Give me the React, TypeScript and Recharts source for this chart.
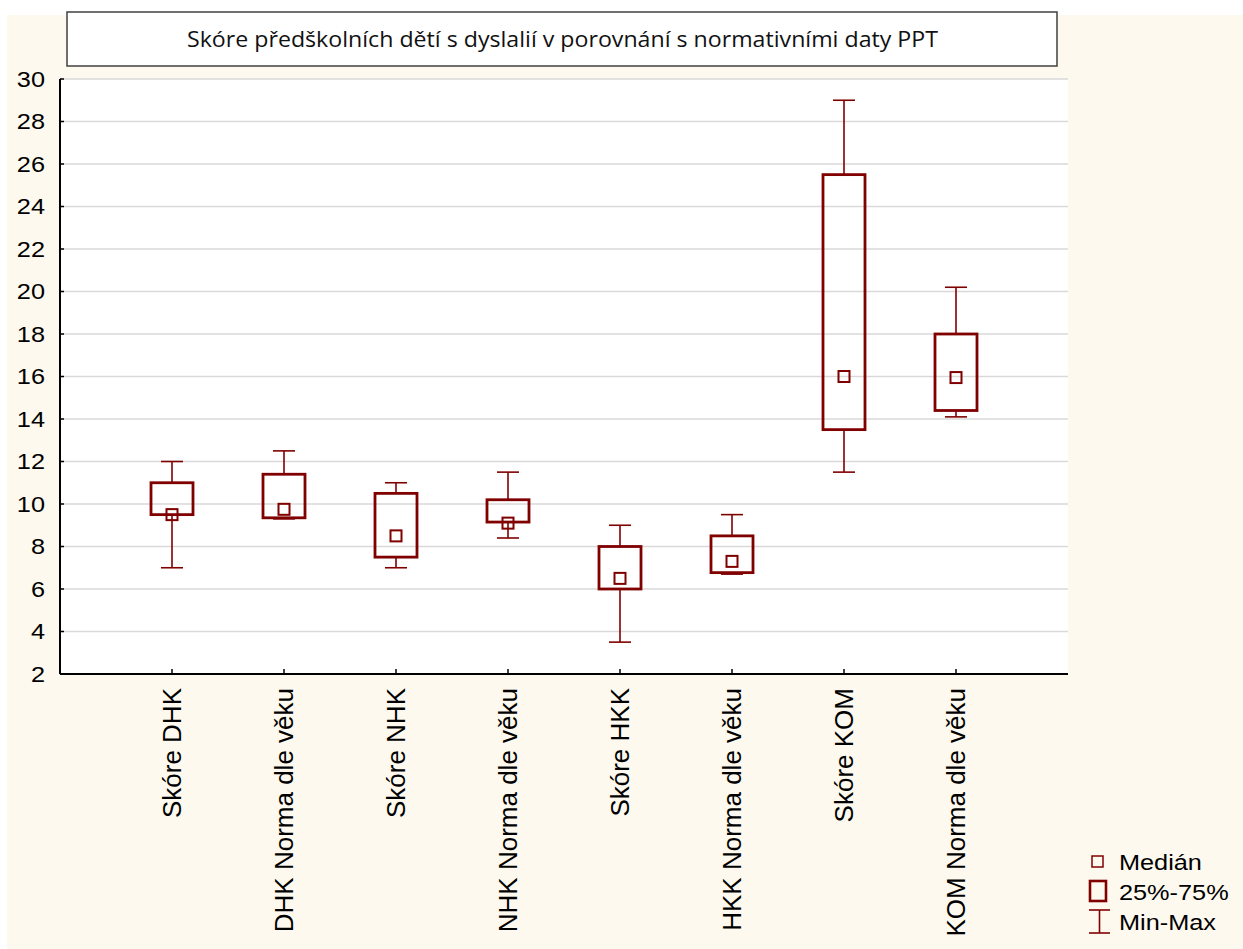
import React from 'react';
import { ComposedChart, Bar, Scatter, XAxis, YAxis, CartesianGrid } from 'recharts';

const categories = [
  'Skóre DHK',
  'DHK Norma dle věku',
  'Skóre NHK',
  'NHK Norma dle věku',
  'Skóre HKK',
  'HKK Norma dle věku',
  'Skóre KOM',
  'KOM Norma dle věku',
];
const minValues = [7, 9.3, 7, 8.4, 3.5, 6.7, 11.5, 14.1];
const q1Values = [9.5, 9.35, 7.5, 9.15, 6, 6.77, 13.5, 14.4];
const medianValues = [9.5, 9.75, 8.5, 9.1, 6.5, 7.3, 16, 15.95];
const q3Values = [11, 11.4, 10.5, 10.2, 8, 8.5, 25.5, 18];
const maxValues = [12, 12.5, 11, 11.5, 9, 9.5, 29, 20.2];
const yTicks = [2, 4, 6, 8, 10, 12, 14, 16, 18, 20, 22, 24, 26, 28, 30];
const legendLabels = ['Medián', '25%-75%', 'Min-Max'];
const title = 'Skóre předškolních dětí s dyslalií v porovnání s normativními daty PPT';

const data = categories.map((name, i) => ({
  name,
  base: minValues[i],
  lower: q1Values[i] - minValues[i],
  box: q3Values[i] - q1Values[i],
  upper: maxValues[i] - q3Values[i],
  median: medianValues[i],
}));

const RED = '#800000';
const FONT = '"Liberation Sans", Arial, sans-serif';
const CAP = 11;

const LowerWhisker = (p: any) => {
  const cx = p.x + p.width / 2;
  const top = p.y;
  const bot = p.y + p.height;
  return (
    <g>
      <line x1={cx} x2={cx} y1={top} y2={bot} stroke={RED} strokeWidth={1.6} />
      <line x1={cx - CAP} x2={cx + CAP} y1={bot} y2={bot} stroke={RED} strokeWidth={1.6} />
    </g>
  );
};

const UpperWhisker = (p: any) => {
  const cx = p.x + p.width / 2;
  const top = p.y;
  const bot = p.y + p.height;
  return (
    <g>
      <line x1={cx} x2={cx} y1={top} y2={bot} stroke={RED} strokeWidth={1.6} />
      <line x1={cx - CAP} x2={cx + CAP} y1={top} y2={top} stroke={RED} strokeWidth={1.6} />
    </g>
  );
};

const BoxShape = (p: any) => (
  <rect x={p.x} y={p.y} width={p.width} height={p.height} fill="none" stroke={RED} strokeWidth={2.8} />
);

const MedianShape = (p: any) => (
  <rect x={p.cx - 5.5} y={p.cy - 5.5} width={11} height={11} fill="none" stroke={RED} strokeWidth={2} />
);

const YTick = (p: any) => {
  const { x, y, payload } = p;
  return (
    <g>
      <line x1={x + 15} x2={x + 19} y1={y} y2={y} stroke="#000" strokeWidth={1.5} />
      <text
        transform={`translate(${x},${y}) scale(1.15,1)`}
        textAnchor="end"
        dy="0.36em"
        fontSize={22}
        fontFamily={FONT}
        fill="#000"
      >
        {payload.value}
      </text>
    </g>
  );
};

const XTick = (p: any) => {
  const { x, y, payload } = p;
  return (
    <g>
      <line x1={x} x2={x} y1={y - 14} y2={y - 19} stroke="#000" strokeWidth={1.5} />
      <text
        x={x}
        y={y}
        transform={`rotate(-90, ${x}, ${y})`}
        textAnchor="end"
        dy="0.36em"
        fontSize={26}
        fontFamily={FONT}
        fill="#000"
      >
        {payload.value}
      </text>
    </g>
  );
};

const TopTick = (p: any) => {
  const { x, y } = p;
  return <line x1={x} x2={x} y1={y} y2={y + 5} stroke="#000" strokeWidth={1.5} />;
};

export default function App() {
  return (
    <div style={{ position: 'absolute', left: 0, top: 0, width: 1243, height: 949, background: '#fff' }}>
      <div style={{ position: 'absolute', left: 7, top: 15, width: 1236, height: 934, background: '#FDF9EE' }} />
      <div style={{ position: 'absolute', left: 0, top: 0 }}>
        <ComposedChart
          width={1243}
          height={949}
          data={data}
          margin={{ top: 79, right: 175, left: 0, bottom: 0 }}
        >
          <CartesianGrid vertical={false} stroke="#D9D9D9" strokeWidth={1.6} fill="#FFFFFF" />
          <XAxis
            dataKey="name"
            interval={0}
            padding={{ left: 56, right: 56 }}
            height={275}
            tickSize={0}
            tickMargin={14}
            tickLine={false}
            axisLine={{ stroke: '#000', strokeWidth: 2 }}
            tick={<XTick />}
          />
          <XAxis
            xAxisId="top"
            orientation="top"
            dataKey="name"
            interval={0}
            padding={{ left: 56, right: 56 }}
            height={0}
            tickSize={0}
            tickMargin={0}
            tickLine={false}
            axisLine={{ stroke: '#000', strokeWidth: 2 }}
            tick={<TopTick />}
          />
          <YAxis
            type="number"
            domain={[2, 30]}
            ticks={yTicks}
            allowDataOverflow
            width={60}
            tickSize={0}
            tickMargin={15}
            tickLine={false}
            axisLine={{ stroke: '#000', strokeWidth: 2 }}
            tick={<YTick />}
          />
          <YAxis
            yAxisId="right"
            orientation="right"
            type="number"
            domain={[2, 30]}
            allowDataOverflow
            width={0}
            tick={false}
            tickLine={false}
            axisLine={{ stroke: '#000', strokeWidth: 2 }}
          />
          <Bar dataKey="base" stackId="b" barSize={42} fill="none" isAnimationActive={false} shape={() => null} />
          <Bar dataKey="lower" stackId="b" barSize={42} isAnimationActive={false} shape={<LowerWhisker />} />
          <Bar dataKey="box" stackId="b" barSize={42} isAnimationActive={false} shape={<BoxShape />} />
          <Bar dataKey="upper" stackId="b" barSize={42} isAnimationActive={false} shape={<UpperWhisker />} />
          <Scatter dataKey="median" isAnimationActive={false} shape={<MedianShape />} />
        </ComposedChart>
      </div>
      <svg width={1243} height={949} style={{ position: 'absolute', left: 0, top: 0, pointerEvents: 'none' }}>
        <rect x={67} y={12} width={990} height={54} fill="#FFFFFF" stroke="#404040" strokeWidth={1.5} />
        <text
          x={562.5}
          y={47}
          textAnchor="middle"
          fontSize={21}
          fontFamily='"Open Sans", "Noto Sans", sans-serif'
          fill="#111"
          textLength={751}
          lengthAdjust="spacingAndGlyphs"
        >
          {title}
        </text>
        <rect x={1092} y={856} width={11} height={11} fill="none" stroke={RED} strokeWidth={1.5} />
        <rect x={1090} y={881} width={16} height={20} fill="none" stroke={RED} strokeWidth={2.6} />
        <line x1={1089} x2={1110} y1={910} y2={910} stroke={RED} strokeWidth={1.6} />
        <line x1={1099.5} x2={1099.5} y1={910} y2={933} stroke={RED} strokeWidth={1.6} />
        <line x1={1089} x2={1110} y1={933} y2={933} stroke={RED} strokeWidth={1.6} />
        {legendLabels.map((label, i) => (
          <text
            key={label}
            transform={`translate(1119,${[862, 892, 922][i]}) scale(1.15,1)`}
            dy="0.36em"
            fontSize={22}
            fontFamily={FONT}
            fill="#000"
          >
            {label}
          </text>
        ))}
      </svg>
    </div>
  );
}
